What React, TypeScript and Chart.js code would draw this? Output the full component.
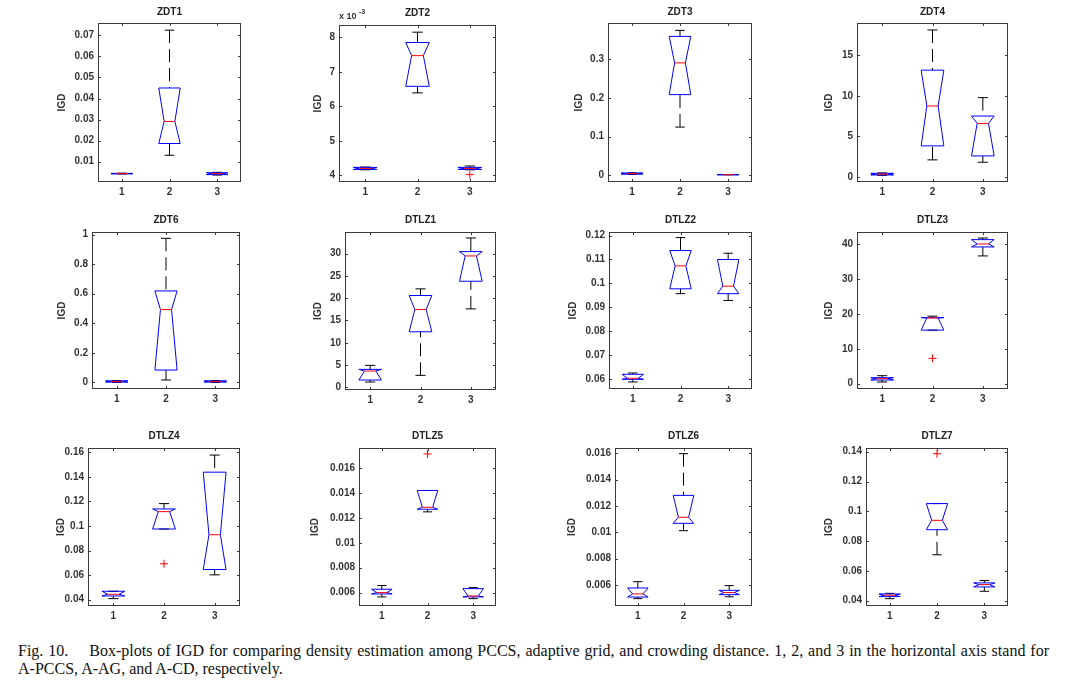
import React, { useEffect, useRef } from 'react';
import { Chart, registerables } from 'chart.js';

Chart.register(...registerables);

// ---------------- data ----------------
const panelTitles = ['ZDT1', 'ZDT2', 'ZDT3', 'ZDT4', 'ZDT6', 'DTLZ1', 'DTLZ2', 'DTLZ3', 'DTLZ4', 'DTLZ5', 'DTLZ6', 'DTLZ7'];
const groups = ['1', '2', '3'];

// ZDT2 values are in axis units of 10^-3
const whiskerLow = [
  [0.0041, 0.013, 0.0036],
  [4.16, 6.39, 4.16],
  [0.0025, 0.1249, 0.0013],
  [0.2, 2.11, 1.82],
  [0.0, 0.016, 0.0],
  [1.19, 2.69, 17.6],
  [0.05875, 0.0957, 0.09285],
  [0.48, 15.37, 36.66],
  [0.0408, 0.09755, 0.0602],
  [0.00565, 0.0125, 0.00551],
  [0.00496, 0.01012, 0.0051],
  [0.0413, 0.0708, 0.0463],
];
const q1Values = [
  [0.0042, 0.0186, 0.0038],
  [4.17, 6.58, 4.17],
  [0.003, 0.209, 0.0015],
  [0.25, 3.84, 2.6],
  [0.002, 0.0833, 0.002],
  [1.64, 12.46, 23.8],
  [0.05986, 0.09772, 0.0957],
  [1.05, 15.37, 39.24],
  [0.043, 0.09755, 0.06455],
  [0.00589, 0.01271, 0.00565],
  [0.00508, 0.01068, 0.00526],
  [0.0427, 0.08764, 0.04921],
];
const medianValues = [
  [0.0043, 0.0291, 0.0043],
  [4.2, 7.47, 4.2],
  [0.0045, 0.2913, 0.0017],
  [0.35, 8.76, 6.61],
  [0.006, 0.493, 0.006],
  [3.66, 17.46, 29.48],
  [0.06028, 0.10733, 0.09884],
  [1.43, 18.85, 40.1],
  [0.04436, 0.11173, 0.09291],
  [0.006, 0.01287, 0.00573],
  [0.00532, 0.01114, 0.00542],
  [0.0436, 0.09393, 0.0508],
];
const q3Values = [
  [0.0044, 0.045, 0.0047],
  [4.23, 7.85, 4.23],
  [0.006, 0.3598, 0.002],
  [0.45, 13.18, 7.52],
  [0.01, 0.619, 0.01],
  [4.03, 20.6, 30.45],
  [0.06195, 0.11373, 0.11],
  [1.72, 18.95, 41.34],
  [0.04682, 0.11391, 0.1439],
  [0.00627, 0.01422, 0.00632],
  [0.00577, 0.0128, 0.00559],
  [0.0445, 0.10517, 0.05191],
];
const whiskerHigh = [
  [0.0045, 0.0725, 0.0049],
  [4.24, 8.15, 4.27],
  [0.0065, 0.3754, 0.0022],
  [0.5, 18.14, 9.79],
  [0.012, 0.975, 0.012],
  [4.93, 22.09, 33.51],
  [0.0625, 0.11916, 0.11262],
  [2.29, 19.38, 41.8],
  [0.0468, 0.11828, 0.15782],
  [0.00657, 0.01422, 0.0064],
  [0.00625, 0.01597, 0.00595],
  [0.0449, 0.10517, 0.0535],
];
const outlierValues = [
  [null, null, null],
  [null, null, 4.02],
  [null, null, null],
  [null, null, null],
  [null, null, null],
  [null, null, null],
  [null, null, null],
  [null, 7.26, null],
  [null, 0.0692, null],
  [null, 0.01716, null],
  [null, null, null],
  [null, 0.13865, null],
];

const yTicks = [
  [0.01, 0.02, 0.03, 0.04, 0.05, 0.06, 0.07],
  [4, 5, 6, 7, 8],
  [0, 0.1, 0.2, 0.3],
  [0, 5, 10, 15],
  [0, 0.2, 0.4, 0.6, 0.8, 1],
  [0, 5, 10, 15, 20, 25, 30],
  [0.06, 0.07, 0.08, 0.09, 0.1, 0.11, 0.12],
  [0, 10, 20, 30, 40],
  [0.04, 0.06, 0.08, 0.1, 0.12, 0.14, 0.16],
  [0.006, 0.008, 0.01, 0.012, 0.014, 0.016],
  [0.006, 0.008, 0.01, 0.012, 0.014, 0.016],
  [0.04, 0.06, 0.08, 0.1, 0.12, 0.14],
];
const yMin = [0.0003, 3.806, -0.0173, -0.62, -0.045, -0.6, 0.0558, -1.53, 0.0348, 0.00492, 0.0044, 0.0364];
const yMax = [0.0759, 8.358, 0.3945, 19.0, 1.018, 34.85, 0.1215, 43.53, 0.1636, 0.01764, 0.0164, 0.1425];
const axisExponent = [null, '-3', null, null, null, null, null, null, null, null, null, null];
const yAxisLabel = 'IGD';

const captionLines = [
  'Fig. 10.\u2003 Box-plots of IGD for comparing density estimation among PCCS, adaptive grid, and crowding distance. 1, 2, and 3 in the horizontal axis stand for',
  'A-PCCS, A-AG, and A-CD, respectively.',
];

// ---------------- layout (page pixels) ----------------
const plotBoxes = [
  [98, 23, 241, 182],
  [339, 25, 496, 182],
  [608, 23, 752, 182],
  [857, 23, 1008, 182],
  [92, 232, 240, 389],
  [345, 232, 496, 390],
  [609, 232, 752, 389],
  [857, 232, 1008, 389],
  [88, 448, 240, 606],
  [359, 448, 496, 606],
  [615, 448, 752, 606],
  [866, 448, 1008, 606],
];
const yLabelX = [62, 318, 579, 829, 62, 318, 573, 829, 61, 315, 572, 829];
const titleGap = [10.5, 12, 10.5, 10.5, 12, 12, 12, 12, 11.5, 11.5, 11.5, 11.5];

const PAD_L = 60;
const PAD_T = 30;
const PAD_R = 10;
const PAD_B = 20;
const FONT = "'Liberation Sans', Arial, sans-serif";
const TEXT = '#333333';
const FRAME = '#3a3a3a';
const BLUE = '#0000ff';
const RED = '#ff0000';

function Panel({ index }: { index: number }) {
  const canvasRef = useRef<HTMLCanvasElement | null>(null);
  const [L, T, R, B] = plotBoxes[index];
  const width = R - L + PAD_L + PAD_R;
  const height = B - T + PAD_T + PAD_B;

  useEffect(() => {
    const canvas = canvasRef.current;
    if (!canvas) return;

    const boxPlugin = {
      id: 'notchedBox',
      afterDatasetsDraw(chart: any) {
        const ctx = chart.ctx;
        const xs = chart.scales.x;
        const ys = chart.scales.y;
        const area = chart.chartArea;
        const catW = (area.right - area.left) / groups.length;
        const hw = catW * 0.225;
        const nw = hw * 0.5;
        const cw = catW * 0.1;
        ctx.save();
        ctx.beginPath();
        ctx.rect(area.left, area.top, area.right - area.left, area.bottom - area.top);
        ctx.clip();
        groups.forEach((_g, i) => {
          const cx = xs.getPixelForValue(i);
          const lo = ys.getPixelForValue(whiskerLow[index][i]);
          const a = ys.getPixelForValue(q1Values[index][i]);
          const m = ys.getPixelForValue(medianValues[index][i]);
          const b = ys.getPixelForValue(q3Values[index][i]);
          const hi = ys.getPixelForValue(whiskerHigh[index][i]);
          // whiskers
          ctx.strokeStyle = '#000';
          ctx.lineWidth = 1;
          ctx.setLineDash([13, 6]);
          ctx.beginPath();
          if (hi < b - 0.5) {
            ctx.moveTo(cx, hi);
            ctx.lineTo(cx, b);
          }
          if (lo > a + 0.5) {
            ctx.moveTo(cx, lo);
            ctx.lineTo(cx, a);
          }
          ctx.stroke();
          ctx.setLineDash([]);
          ctx.beginPath();
          ctx.moveTo(cx - cw, hi);
          ctx.lineTo(cx + cw, hi);
          ctx.moveTo(cx - cw, lo);
          ctx.lineTo(cx + cw, lo);
          ctx.stroke();
          // notched box
          ctx.strokeStyle = BLUE;
          ctx.beginPath();
          ctx.moveTo(cx - hw, b);
          ctx.lineTo(cx - nw, m);
          ctx.lineTo(cx - hw, a);
          ctx.lineTo(cx + hw, a);
          ctx.lineTo(cx + nw, m);
          ctx.lineTo(cx + hw, b);
          ctx.closePath();
          ctx.stroke();
          // median
          ctx.strokeStyle = RED;
          ctx.beginPath();
          ctx.moveTo(cx - nw, m);
          ctx.lineTo(cx + nw, m);
          ctx.stroke();
        });
        ctx.restore();
      },
      afterDraw(chart: any) {
        const ctx = chart.ctx;
        const area = chart.chartArea;
        const xs = chart.scales.x;
        const ys = chart.scales.y;
        ctx.save();
        ctx.strokeStyle = FRAME;
        ctx.lineWidth = 1;
        ctx.strokeRect(area.left + 0.5, area.top + 0.5, area.right - area.left - 1, area.bottom - area.top - 1);
        ctx.beginPath();
        yTicks[index].forEach((v) => {
          const py = Math.round(ys.getPixelForValue(v)) + 0.5;
          ctx.moveTo(area.left, py);
          ctx.lineTo(area.left + 3, py);
          ctx.moveTo(area.right, py);
          ctx.lineTo(area.right - 3, py);
        });
        groups.forEach((_g, i) => {
          const px = Math.round(xs.getPixelForValue(i)) + 0.5;
          ctx.moveTo(px, area.bottom);
          ctx.lineTo(px, area.bottom - 3);
          ctx.moveTo(px, area.top);
          ctx.lineTo(px, area.top + 3);
        });
        ctx.stroke();
        const exp = axisExponent[index];
        if (exp) {
          ctx.fillStyle = TEXT;
          ctx.font = `bold 9px ${FONT}`;
          ctx.textAlign = 'left';
          ctx.textBaseline = 'middle';
          ctx.fillText('x 10', area.left, area.top - 8);
          ctx.font = `bold 7px ${FONT}`;
          ctx.fillText(exp, area.left + 20, area.top - 13);
        }
        ctx.restore();
      },
    };

    const titleLine = 12;
    const titleCenter = PAD_T - titleGap[index];
    const titlePadTop = titleCenter - titleLine / 2;
    const labelLine = 10 * 1.2;
    const labelCenter = yLabelX[index] - (L - PAD_L);

    const chart = new Chart(canvas, {
      type: 'line',
      data: {
        labels: groups,
        datasets: [
          {
            label: 'outliers',
            data: outlierValues[index] as any,
            showLine: false,
            pointStyle: 'cross',
            pointRadius: 4,
            pointHoverRadius: 4,
            pointBorderWidth: 1,
            borderColor: RED,
            backgroundColor: RED,
          },
        ],
      },
      options: {
        responsive: false,
        animation: false,
        devicePixelRatio: 1,
        events: [],
        layout: { padding: { left: 0, top: 0, right: PAD_R, bottom: 0 } },
        plugins: {
          legend: { display: false },
          tooltip: { enabled: false },
          title: {
            display: true,
            text: panelTitles[index],
            fullSize: false,
            color: '#222',
            font: { family: FONT, size: 10, weight: 'bold', lineHeight: 1.2 },
            padding: { top: titlePadTop, bottom: PAD_T - titlePadTop - titleLine },
          },
        },
        scales: {
          x: {
            type: 'category',
            offset: true,
            grid: { display: false, drawTicks: false },
            border: { display: false },
            ticks: { color: TEXT, padding: 4, font: { family: FONT, size: 10, weight: 'bold' } },
            afterFit: (s: any) => {
              s.height = PAD_B;
            },
          },
          y: {
            type: 'linear',
            min: yMin[index],
            max: yMax[index],
            grid: { display: false, drawTicks: false },
            border: { display: false },
            ticks: {
              color: TEXT,
              padding: 4,
              font: { family: FONT, size: 10, weight: 'bold' },
              callback: (v: any) => String(Number(v)),
            },
            afterBuildTicks: (s: any) => {
              s.ticks = yTicks[index].map((v) => ({ value: v }));
            },
            afterFit: (s: any) => {
              s.width = PAD_L;
            },
            title: {
              display: true,
              text: yAxisLabel,
              color: TEXT,
              font: { family: FONT, size: 10, weight: 'bold', lineHeight: 1.2 },
              padding: { top: labelCenter - labelLine / 2, bottom: 0 },
            },
          },
        },
      } as any,
      plugins: [boxPlugin],
    });
    return () => chart.destroy();
  }, [index]);

  return (
    <canvas
      ref={canvasRef}
      width={width}
      height={height}
      style={{ position: 'absolute', left: L - PAD_L, top: T - PAD_T, width, height }}
    />
  );
}

export default function App() {
  const captionStyle: any = {
    fontFamily: "'Liberation Serif', 'Times New Roman', serif",
    fontSize: 16,
    lineHeight: '18px',
    color: '#111',
    whiteSpace: 'nowrap',
  };
  return (
    <div style={{ position: 'absolute', left: 0, top: 0, width: 1067, height: 683, background: '#fff', overflow: 'hidden' }}>
      {panelTitles.map((_t, i) => (
        <Panel key={i} index={i} />
      ))}
      <div style={{ position: 'absolute', left: 18, top: 642, width: 1031 }}>
        <div style={{ ...captionStyle, textAlign: 'justify', textAlignLast: 'justify', whiteSpace: 'normal' }}>{captionLines[0]}</div>
        <div style={captionStyle}>{captionLines[1]}</div>
      </div>
    </div>
  );
}
